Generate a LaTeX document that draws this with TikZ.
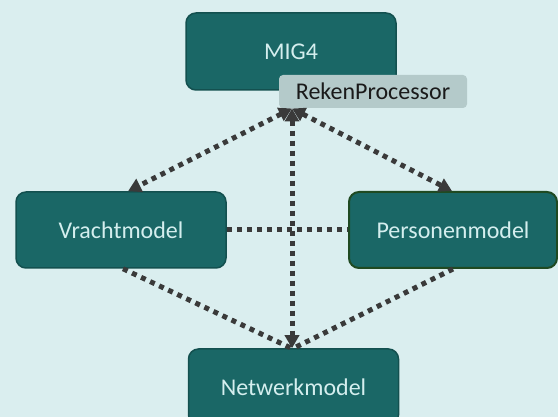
\documentclass[tikz,border=0pt]{standalone}
\usepackage{fontspec}
\setmainfont{Carlito}
\usetikzlibrary{arrows.meta}
\definecolor{bgc}{HTML}{DAEEEF}
\definecolor{boxfill}{HTML}{1A6766}
\definecolor{boxline}{HTML}{13504F}
\definecolor{persline}{HTML}{1F4A22}
\definecolor{boxtext}{HTML}{D4EEEE}
\definecolor{tagfill}{HTML}{B4CACA}
\definecolor{tagtext}{HTML}{1A1A1A}
\definecolor{linkc}{HTML}{3A3A3A}
\begin{document}
\begin{tikzpicture}[x=1pt,y=-1pt,
  model/.style={draw=boxline, line width=1.5pt, fill=boxfill, rounded corners=10pt,
    text=boxtext, font=\fontsize{24}{28}\selectfont, minimum width=210pt,
    minimum height=76pt, inner sep=0pt},
  tag/.style={fill=tagfill, rounded corners=4pt, text=tagtext,
    font=\fontsize{24}{28}\selectfont, minimum width=188pt, minimum height=33pt, inner sep=0pt},
  link/.style={draw=linkc, line width=5pt, dash pattern=on 5pt off 5pt},
  twoway/.style={{Triangle[width=14pt,length=13pt]}-{Triangle[width=14pt,length=13pt]}}]
  % canvas
  \fill[bgc] (0,0) rectangle (558,417);
  \useasboundingbox (0,0) rectangle (558,417);
  \clip (0,0) rectangle (558,417);

  % models
  \node[model, minimum height=77pt] (mig) at (291,51.5) {MIG4};
  \node[tag] (reken) at (373,91.5) {RekenProcessor};
  \node[model] (vracht) at (121,230) {Vrachtmodel};
  \node[model, draw=persline, line width=2pt, minimum width=208pt] (pers) at (453,230) {Personenmodel};
  \node[model] (netw) at (293.5,387) {Netwerkmodel};

  % links
  \coordinate (hub) at (292,108.5);
  \draw[link, twoway] (hub) -- ([xshift=7pt]vracht.north);
  \draw[link, twoway] (hub) -- ([xshift=-1pt]pers.north);
  \draw[link, twoway] (hub) -- (hub |- netw.north);
  \draw[link] (vracht.east) -- (pers.west);
  \draw[link] ([xshift=2pt]vracht.south) -- ([xshift=-2pt]netw.north);
  \draw[link] (pers.south) -- (netw.north);
\end{tikzpicture}
\end{document}
